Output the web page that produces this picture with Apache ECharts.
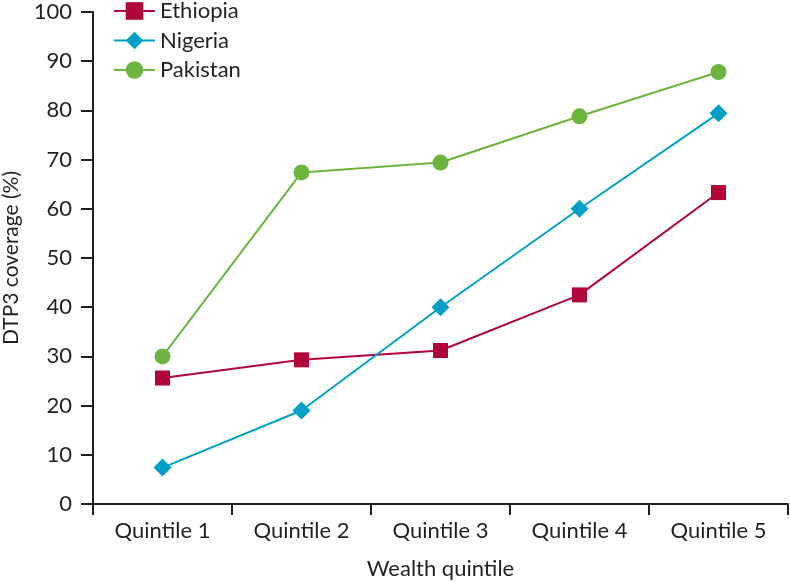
<!DOCTYPE html>
<html><head><meta charset="utf-8">
<script src="https://cdn.jsdelivr.net/npm/echarts@6/dist/echarts.min.js"></script>
<style>html,body{margin:0;padding:0;background:#fff}#c{width:790px;height:582px}</style>
</head><body><div id="c"></div>
<script>
var categories = ['Quintile 1','Quintile 2','Quintile 3','Quintile 4','Quintile 5'];
var ethiopia = [25.6, 29.3, 31.2, 42.5, 63.3];
var nigeria = [7.4, 19.0, 40.0, 60.0, 79.4];
var pakistan = [30.0, 67.4, 69.4, 78.8, 87.8];
var yTicks = {min: 0, max: 100, interval: 10};

var font = 'Lato';
var ink = '#231F20';
var chart = echarts.init(document.getElementById('c'), null, {renderer: 'canvas'});
function s(name, data, color, symbol, size) {
  return {name: name, type: 'line', data: data, symbol: symbol, symbolSize: size,
    lineStyle: {color: color, width: 2}, itemStyle: {color: color},
    emphasis: {disabled: true}, animation: false, z: 3};
}
chart.setOption({
  animation: false,
  grid: {left: 93, right: 2, top: 12, bottom: 78, containLabel: false, outerBoundsMode: 'none'},
  legend: {
    orient: 'vertical', left: 113, top: 0, padding: 0, itemWidth: 41, itemHeight: 22, itemGap: 7.5,
    textStyle: {fontFamily: font, fontSize: 22, color: ink, lineHeight: 20},
    data: ['Ethiopia', 'Nigeria', 'Pakistan']
  },
  xAxis: {
    type: 'category', data: categories, boundaryGap: true,
    name: 'Wealth quintile', nameLocation: 'middle', nameGap: 54, nameMoveOverlap: false,
    nameTextStyle: {fontFamily: font, fontSize: 22, color: ink},
    axisLine: {lineStyle: {color: ink, width: 2}},
    axisTick: {show: true, length: 11, alignWithLabel: false, lineStyle: {color: ink, width: 2}},
    axisLabel: {fontFamily: font, fontSize: 22, color: ink, margin: 16}
  },
  yAxis: {
    type: 'value', min: yTicks.min, max: yTicks.max, interval: yTicks.interval,
    name: 'DTP3 coverage (%)', nameLocation: 'middle', nameGap: 71, nameRotate: 90, nameMoveOverlap: false,
    nameTextStyle: {fontFamily: font, fontSize: 21, color: ink},
    splitLine: {show: false},
    axisLine: {show: true, lineStyle: {color: ink, width: 2}},
    axisTick: {show: true, length: 12, lineStyle: {color: ink, width: 2}},
    axisLabel: {fontFamily: font, fontSize: 22, color: ink, margin: 21}
  },
  series: [
    s('Ethiopia', ethiopia, '#B0063A', 'rect', 15),
    s('Nigeria', nigeria, '#00A0C6', 'diamond', 18),
    s('Pakistan', pakistan, '#6DB33F', 'circle', 16)
  ]
});
</script></body></html>
